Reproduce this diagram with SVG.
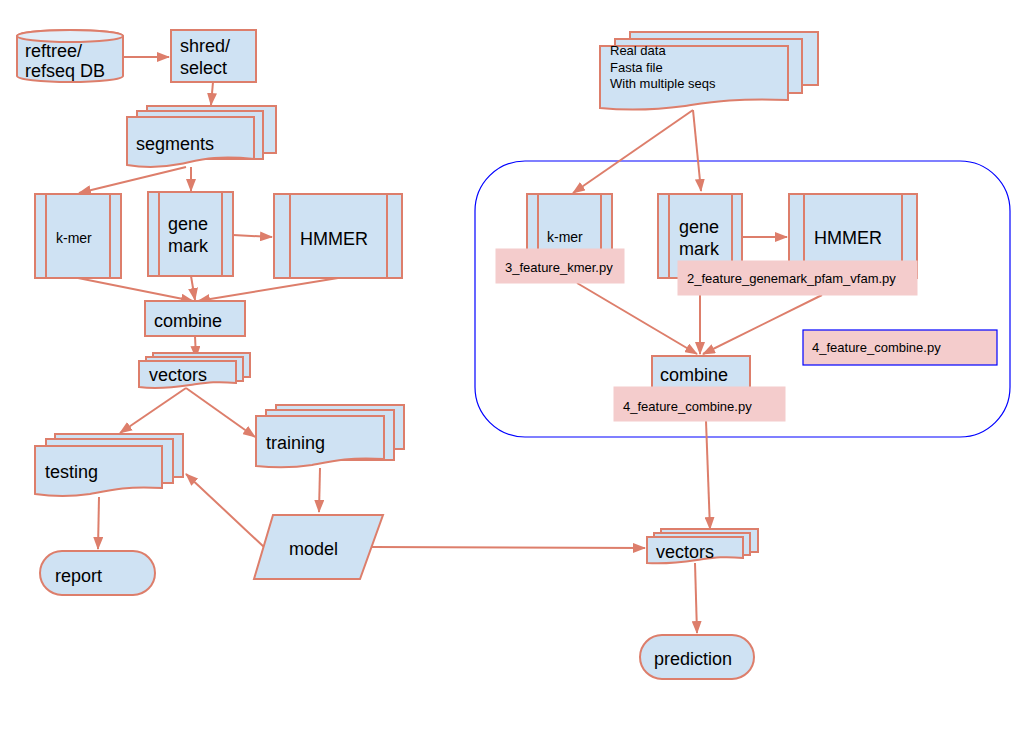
<svg xmlns="http://www.w3.org/2000/svg" width="1023" height="733" viewBox="0 0 1023 733">
<defs>
<style>
.s{fill:#cfe2f3;stroke:#dd7e6b;stroke-width:2}
.l{fill:none;stroke:#dd7e6b;stroke-width:2}
.c{fill:none;stroke:#dd7e6b;stroke-width:2;marker-end:url(#ah)}
.t{font-family:"Liberation Sans",Arial,sans-serif;font-size:18px;fill:#000}
.sm{font-family:"Liberation Sans",Arial,sans-serif;font-size:13px;fill:#000}
.pk{fill:#f4cccc;stroke:#f4cccc;stroke-width:1}
</style>
<marker id="ah" markerWidth="13" markerHeight="10" refX="12" refY="5" orient="auto" markerUnits="userSpaceOnUse">
<path d="M0,0 L13,5 L0,10 Z" fill="#dd7e6b"/>
</marker>
</defs>
<rect width="1023" height="733" fill="#fff"/>

<g id="container">
<rect x="475" y="161" width="535" height="276" rx="50" fill="none" stroke="#0000ff" stroke-width="1.2"/>
</g>

<g id="connectors">
<path class="c" d="M123,57 L169,57"/>
<path class="c" d="M213,82 L211,105"/>
<path class="c" d="M186,167 L79,193"/>
<path class="c" d="M191,167 L191,191"/>
<path class="c" d="M233,235 L272,237"/>
<path class="c" d="M78,278 L193,301"/>
<path class="c" d="M191,276 L195,300"/>
<path class="c" d="M338,278 L198,301"/>
<path class="c" d="M195,336 L196,358"/>
<path class="c" d="M186,388 L120,433"/>
<path class="c" d="M186,388 L255,437"/>
<path class="c" d="M320,468 L319,512"/>
<path class="c" d="M264,547 L186,474"/>
<path class="c" d="M99,497 L98,549"/>
<path class="c" d="M372,547 L645,548"/>
<path class="c" d="M693,110 L573,193"/>
<path class="c" d="M693,110 L701,191"/>
<path class="c" d="M742,237 L787,237"/>
<path class="c" d="M577,283 L697,354"/>
<path class="c" d="M700,295 L700,354"/>
<path class="c" d="M822,295 L703,354"/>
<path class="c" d="M706,421 L710,529"/>
<path class="c" d="M695,563 L697,633"/>
</g>

<g id="refdb">
<path class="s" d="M17,36 L17,76 A53,6 0 0 0 123,76 L123,36 A53,6 0 0 0 17,36 Z"/>
<ellipse cx="70" cy="36" rx="53" ry="6" fill="#e3eef8" stroke="#dd7e6b" stroke-width="2"/>
<text class="t" x="25" y="57">reftree/</text>
<text class="t" x="25" y="77">refseq DB</text>
</g>

<g id="shred">
<rect class="s" x="171" y="30" width="85" height="52"/>
<text class="t" x="180" y="52">shred/</text>
<text class="t" x="180" y="74">select</text>
</g>

<g id="segments">
<rect class="s" x="147" y="106" width="129" height="47"/>
<rect class="s" x="137" y="111" width="126" height="48"/>
<path class="s" d="M127,117 H254 V159 C215,155 200,160 180,164 C160,168 145,168 127,165 Z"/>
<text class="t" x="136" y="150">segments</text>
</g>

<g id="kmer">
<rect class="s" x="35" y="194" width="86" height="84"/>
<path class="l" d="M46,194 V278 M110,194 V278"/>
<text class="t" x="56" y="243" style="font-size:14px">k-mer</text>
</g>

<g id="genemark">
<rect class="s" x="148" y="192" width="85" height="84"/>
<path class="l" d="M159,192 V276 M222,192 V276"/>
<text class="t" x="168" y="230">gene</text>
<text class="t" x="168" y="252">mark</text>
</g>

<g id="hmmer">
<rect class="s" x="274" y="194" width="128" height="84"/>
<path class="l" d="M290,194 V278 M387,194 V278"/>
<text class="t" x="300" y="245">HMMER</text>
</g>

<g id="combine">
<rect class="s" x="145" y="301" width="100" height="35"/>
<text class="t" x="154" y="327">combine</text>
</g>

<g id="vectors">
<rect class="s" x="153" y="353" width="97" height="24"/>
<rect class="s" x="146" y="357" width="97" height="24"/>
<path class="s" d="M139,361 H236 V383 C215,381 205,383 190,385 C170,388 155,389 139,387 Z"/>
<text class="t" x="149" y="381">vectors</text>
</g>

<g id="testing">
<rect class="s" x="55" y="434" width="128" height="43"/>
<rect class="s" x="46" y="439" width="127" height="44"/>
<path class="s" d="M35,446 H162 V488 C125,486 110,490 90,494 C70,497 55,497 35,494 Z"/>
<text class="t" x="45" y="478">testing</text>
</g>

<g id="training">
<rect class="s" x="276" y="405" width="128" height="44"/>
<rect class="s" x="266" y="410" width="128" height="50"/>
<path class="s" d="M256,416 H384 V459 C347,457 332,461 312,465 C292,468 277,468 256,466 Z"/>
<text class="t" x="266" y="449">training</text>
</g>

<g id="model">
<path class="s" d="M273,515 L383,515 L360,579 L254,579 Z"/>
<text class="t" x="289" y="555">model</text>
</g>

<g id="report">
<rect class="s" x="40" y="551" width="115" height="44" rx="22"/>
<text class="t" x="55" y="582">report</text>
</g>

<g id="realdata">
<rect class="s" x="630" y="32" width="188" height="53"/>
<rect class="s" x="615" y="39" width="187" height="54"/>
<path class="s" d="M600,46 H788 V100 C735,98 712,102 685,106 C655,110 630,111 600,108 Z"/>
<text class="sm" x="610" y="55">Real data</text>
<text class="sm" x="610" y="72">Fasta file</text>
<text class="sm" x="610" y="88">With multiple seqs</text>
</g>

<g id="kmer2">
<rect class="s" x="527" y="194" width="85" height="86"/>
<path class="l" d="M538,194 V280 M601,194 V280"/>
<text class="t" x="547" y="242" style="font-size:14px">k-mer</text>
<rect class="pk" x="496" y="249" width="128" height="34"/>
<text class="sm" x="505" y="272">3_feature_kmer.py</text>
</g>

<g id="genemark2">
<rect class="s" x="658" y="194" width="84" height="84"/>
<path class="l" d="M669,194 V278 M732,194 V278"/>
<text class="t" x="679" y="233">gene</text>
<text class="t" x="679" y="255">mark</text>
</g>

<g id="hmmer2">
<rect class="s" x="789" y="194" width="128" height="84"/>
<path class="l" d="M804,194 V278 M902,194 V278"/>
<text class="t" x="814" y="244">HMMER</text>
</g>

<g id="label-genemark">
<rect class="pk" x="678" y="261" width="239" height="34"/>
<text class="sm" x="687" y="283">2_feature_genemark_pfam_vfam.py</text>
</g>

<g id="combine2">
<rect class="s" x="652" y="356" width="98" height="40"/>
<text class="t" x="660" y="381">combine</text>
<rect class="pk" x="614" y="387" width="171" height="34"/>
<text class="sm" x="623" y="411">4_feature_combine.py</text>
</g>

<g id="note-combine">
<rect x="803" y="330" width="194" height="35" fill="#f4cccc" stroke="#0000ff" stroke-width="1.2"/>
<text class="sm" x="812" y="352">4_feature_combine.py</text>
</g>

<g id="vectors2">
<rect class="s" x="661" y="529" width="97" height="23"/>
<rect class="s" x="654" y="533" width="96" height="22"/>
<path class="s" d="M647,537 H743 V558 C722,556 712,558 697,560 C677,563 662,564 647,563 Z"/>
<text class="t" x="656" y="558">vectors</text>
</g>

<g id="prediction">
<rect class="s" x="640" y="635" width="114" height="44" rx="22"/>
<text class="t" x="654" y="665">prediction</text>
</g>
</svg>
